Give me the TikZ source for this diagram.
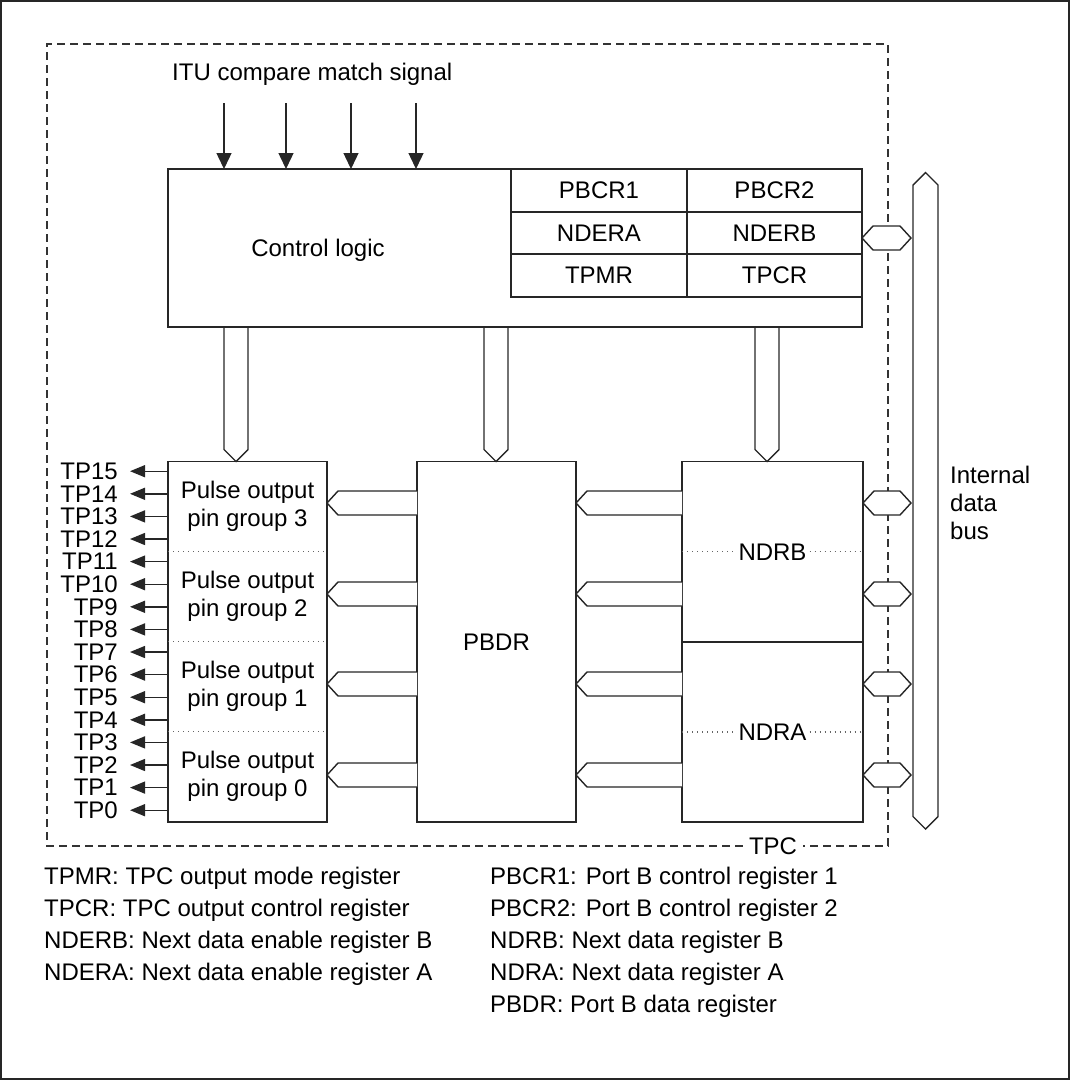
\documentclass[tikz,border=0pt]{standalone}
\usepackage{fontspec}
\setmainfont{Liberation Sans}
\usetikzlibrary{arrows.meta,calc}
\newcommand\hexL[3]{%
  \draw[ln,fill=white] ($(#2 |- #3)+(0,-12)$) -- ($(#1 |- #3)+(11,-12)$) -- (#1 |- #3) -- ($(#1 |- #3)+(11,12)$) -- ($(#2 |- #3)+(0,12)$);}
\newcommand\hexD[3]{%
  \draw[ln,fill=white] (#1 |- #3) -- ($(#1 |- #3)+(11,-12)$) -- ($(#2 |- #3)+(-11,-12)$) -- (#2 |- #3) -- ($(#2 |- #3)+(-11,12)$) -- ($(#1 |- #3)+(11,12)$) -- cycle;}
\newcommand\vbus[3]{%
  \draw[ln] ($(#1 -| #3)+(-12,0)$) -- ($(#2 -| #3)+(-12,-12)$) -- (#2 -| #3) -- ($(#2 -| #3)+(12,-12)$) -- ($(#1 -| #3)+(12,0)$);}
\begin{document}
\begin{tikzpicture}[x=1pt,y=-1pt,
  ln/.style={line width=1.4pt,draw=black!85},
  box/.style={ln,rectangle,inner sep=0pt,outer sep=0pt,anchor=north west},
  txt/.style={font=\fontsize{24}{28}\selectfont,inner sep=0pt},
  sig/.style={ln,-{Triangle[length=16pt,width=15pt]}},
  tpsig/.style={ln,-{Triangle[length=15pt,width=12pt]}},
  dsh/.style={line width=1.3pt,draw=black!80,dash pattern=on 8pt off 5pt},
  dot/.style={line width=1.3pt,draw=black!60,dash pattern=on 1.3pt off 3.7pt},
]
\useasboundingbox (0,0) rectangle (1070,1080);
\draw[line width=1.5pt,black!85] (1,1) rectangle (1069,1079);

% TPC dashed boundary
\node[txt,inner xsep=6pt] (tpc) at (773,846) {TPC};
\draw[dsh] (tpc.west) -| (47,44) -| (tpc.east -| 888,0) -- (tpc.east);

% top signal
\node[txt,anchor=west] (itu) at (172,74) {ITU compare match signal};

% control logic block
\node[box,minimum width=694pt,minimum height=158pt] (ctrl) at (168,169) {};
\node[txt] (ctrltxt) at (318,250) {Control logic};
\node[box,txt,minimum width=176pt,minimum height=43pt] (pbcr1) at (511,169) {PBCR1};
\node[box,txt,minimum width=175pt,minimum height=43pt] (pbcr2) at (687,169) {PBCR2};
\node[box,txt,minimum width=176pt,minimum height=42pt] (ndera) at (511,212) {NDERA};
\node[box,txt,minimum width=175pt,minimum height=42pt] (nderb) at (687,212) {NDERB};
\node[box,txt,minimum width=176pt,minimum height=43pt] (tpmr) at (511,254) {TPMR};
\node[box,txt,minimum width=175pt,minimum height=43pt] (tpcr) at (687,254) {TPCR};

\foreach \n/\xx in {s1/224,s2/286,s3/351,s4/416}{
  \coordinate (\n) at (\xx,103);
  \draw[sig] (\n) -- (\n |- ctrl.north);
}

% lower blocks
\node[box,minimum width=159pt,minimum height=360.5pt] (pulse) at (168,461.5) {};
\node[box,minimum width=159pt,minimum height=360.5pt] (pbdr) at (417,461.5) {};
\node[box,minimum width=181pt,minimum height=180.5pt] (ndrb) at (682,461.5) {};
\node[box,minimum width=181pt,minimum height=180pt] (ndra) at (682,642) {};
\node[txt] (pbdrtxt) at (pbdr.center) {PBDR};

\node[txt,inner xsep=3pt] (ndrbtxt) at (ndrb.center) {NDRB};
\draw[dot] (ndrb.west) -- (ndrbtxt.west);
\draw[dot] (ndrbtxt.east) -- (ndrb.east);
\node[txt,inner xsep=3pt] (ndratxt) at (ndra.center) {NDRA};
\draw[dot] (ndra.west) -- (ndratxt.west);
\draw[dot] (ndratxt.east) -- (ndra.east);

% pulse output groups
\foreach \g in {1,2,3}{
  \draw[dot] ($(pulse.north west)+(0,90*\g)$) -- ($(pulse.north east)+(0,90*\g)$);
}
\foreach \g/\k in {3/0,2/1,1/2,0/3}{
  \node[txt,align=center] (grp\g) at ($(pulse.north)+(0,45+90*\k)$) {Pulse output\\pin group \g};
}
\foreach \i in {0,...,15}{
  \pgfmathsetmacro\yy{471.2+(15-\i)*22.6}
  \node[txt,anchor=east] (tp\i) at (118,\yy) {TP\i};
  \draw[tpsig] (pulse.west |- tp\i) -- ($(tp\i.east)+(12,0)$);
}

% vertical buses from control logic
\coordinate (c1) at (236,0);
\coordinate (c2) at (496,0);
\coordinate (c3) at (767,0);
\vbus{ctrl.south}{pulse.north}{c1}
\vbus{ctrl.south}{pbdr.north}{c2}
\vbus{ctrl.south}{ndrb.north}{c3}

% internal data bus
\draw[ln] (913,185) -- (925.5,172.5) -- (938,185) -- (938,816.5) -- (925.5,829) -- (913,816.5) -- cycle;
\coordinate (busin) at (911,0);
\node[txt,align=left,anchor=north west] (ibus) at (950,466) {Internal\\data\\bus};

% horizontal buses
\coordinate (r0) at (0,238);
\coordinate (r1) at (0,503);
\coordinate (r2) at (0,594);
\coordinate (r3) at (0,684);
\coordinate (r4) at (0,775);
\hexD{ctrl.east}{busin}{r0}
\foreach \r in {r1,r2}{
  \hexL{pulse.east}{pbdr.west}{\r}
  \hexL{pbdr.east}{ndrb.west}{\r}
  \hexD{ndrb.east}{busin}{\r}
}
\foreach \r in {r3,r4}{
  \hexL{pulse.east}{pbdr.west}{\r}
  \hexL{pbdr.east}{ndra.west}{\r}
  \hexD{ndra.east}{busin}{\r}
}

% legend
\foreach \t [count=\k from 0] in {TPMR: TPC output mode register,TPCR: TPC output control register,NDERB: Next data enable register B,NDERA: Next data enable register A}{
  \node[txt,anchor=west] (legl\k) at (44,{878+32*\k}) {\t};
}
\foreach \t [count=\k from 0] in {PBCR1: Port B control register 1,PBCR2: Port B control register 2,NDRB: Next data register B,NDRA: Next data register A,PBDR: Port B data register}{
  \node[txt,anchor=west] (legr\k) at (490,{878+32*\k}) {\t};
}
\end{tikzpicture}
\end{document}
